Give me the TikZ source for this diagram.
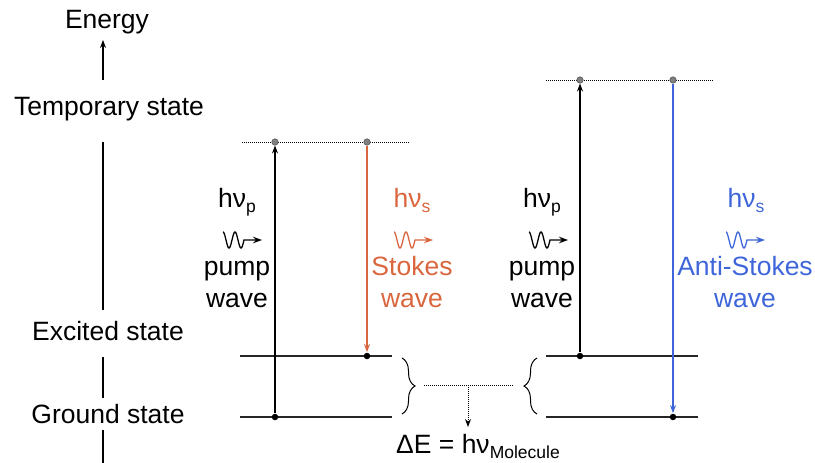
\documentclass[tikz,border=0pt]{standalone}
\usepackage{fontspec}
\setmainfont{Liberation Sans}
\usetikzlibrary{arrows.meta,decorations.pathreplacing}
\definecolor{stokescol}{RGB}{218,102,62}
\definecolor{antistokescol}{RGB}{62,102,218}
\newcommand\lowidx[1]{\raisebox{-5pt}{\fontsize{17.5}{20}\selectfont #1}}
\begin{document}
\begin{tikzpicture}[x=1pt, y=-1pt, >={Stealth[length=8pt,width=6pt]}, line width=1.3pt,
    lbl/.style={anchor=base, inner sep=0pt, font=\fontsize{26.5}{30}\selectfont},
    level/.style={line width=1.4pt, draw=black!85},
    virtual/.style={densely dotted, line width=1pt},
    dot/.style={circle, fill=black, inner sep=0pt, minimum size=6.5pt},
    vdot/.style={circle, fill=gray, draw=gray!60!black, line width=0.5pt, inner sep=0pt, minimum size=6.5pt},
    brc/.style={decorate, decoration={brace, amplitude=13pt}, line width=1pt},
    photon/.pic={\draw[-{Stealth[length=9pt,width=6.5pt]}, line width=1.3pt] plot[domain=0:21, samples=60, smooth] (\x, {-8*cos(\x*30)}) -- ++(18,0);}]
    \useasboundingbox (0,0) rectangle (815,463);
    \def\Ytmpl{142}
    \def\Ytmpr{80}
    \def\Yexc{356}
    \def\Ygnd{417}

    % Energy axis
    \node[lbl] (energy) at (107,28) {Energy};
    \node[lbl] (tmp) at (109,115) {Temporary state};
    \node[lbl] (exc) at (108,340) {Excited state};
    \node[lbl] (gnd) at (108,423) {Ground state};
    \coordinate (ax0) at (103,80);
    \coordinate (ax1) at (103,40);
    \draw[->, line width=1.2pt] (ax0) -- (ax1);
    \draw[line width=1.2pt] (103,142) -- (103,310);
    \draw[line width=1.2pt] (103,357) -- (103,398);
    \draw[line width=1.2pt] (103,430) -- (103,463);

    % Stokes scattering
    \draw[virtual] (242,\Ytmpl) -- (410,\Ytmpl);
    \draw[level] (240,\Yexc) -- (392,\Yexc);
    \draw[level] (240,\Ygnd) -- (392,\Ygnd);
    \node[vdot] (tL1) at (275,\Ytmpl) {};
    \node[vdot] (tL2) at (367,\Ytmpl) {};
    \node[dot] (gL) at (275,\Ygnd) {};
    \node[dot] (eL) at (367,\Yexc) {};
    \draw[->] (gL) -- (tL1);
    \draw[->, stokescol] (tL2) -- (eL);

    \node[lbl] (hvpL) at (237,207) {hν\lowidx{p}};
    \pic at (223,240) {photon};
    \node[lbl] (pumpL) at (237,275) {pump};
    \node[lbl] (waveL) at (237,307) {wave};
    \node[lbl, stokescol] (hvs) at (412,207) {hν\lowidx{s}};
    \pic[stokescol] at (394,240) {photon};
    \node[lbl, stokescol] (stokes) at (412,275) {Stokes};
    \node[lbl, stokescol] (waveS) at (412,307) {wave};

    % Anti-Stokes scattering
    \draw[virtual] (546,\Ytmpr) -- (714,\Ytmpr);
    \draw[level] (546,\Yexc) -- (698,\Yexc);
    \draw[level] (546,\Ygnd) -- (698,\Ygnd);
    \node[vdot] (tR1) at (580,\Ytmpr) {};
    \node[vdot] (tR2) at (673,\Ytmpr) {};
    \node[dot] (eR) at (580,\Yexc) {};
    \node[dot] (gR) at (673,\Ygnd) {};
    \draw[->] (eR) -- (tR1);
    \draw[->, antistokescol] (tR2) -- (gR);

    \node[lbl] (hvpR) at (542,207) {hν\lowidx{p}};
    \pic at (529,240) {photon};
    \node[lbl] (pumpR) at (542,275) {pump};
    \node[lbl] (waveR) at (542,307) {wave};
    \node[lbl, antistokescol] (hvas) at (746,207) {hν\lowidx{s}};
    \pic[antistokescol] at (726,240) {photon};
    \node[lbl, antistokescol] (antistokes) at (745,275) {Anti-Stokes};
    \node[lbl, antistokescol] (waveA) at (745,307) {wave};

    % Energy difference
    \draw[brc] (402,358) -- (402,414);
    \draw[brc] (537,414) -- (537,358);
    \coordinate (dL) at (424,385);
    \coordinate (dR) at (513,385);
    \coordinate (dM) at (468,385);
    \coordinate (dT) at (468,427);
    \draw[virtual] (dL) -- (dR);
    \draw[virtual, ->] (dM) -- (dT);
    \node[lbl] (dE) at (478,453) {ΔE = hν\lowidx{Molecule}};
\end{tikzpicture}
\end{document}
